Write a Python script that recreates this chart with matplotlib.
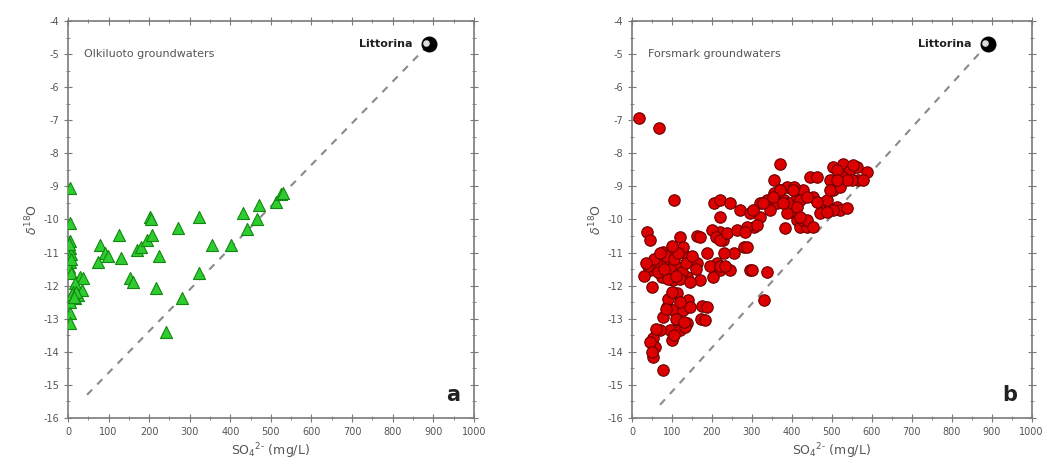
import matplotlib.pyplot as plt
from matplotlib.ticker import MultipleLocator

plt.rcParams['axes.unicode_minus'] = False

# Olkiluoto groundwaters: SO4 (mg/L) and d18O
olk_so4 = [5, 5, 5, 6, 7, 5, 3, 3, 8, 7, 30, 38, 17, 13, 25, 17, 6, 34, 5, 6,
           10, 20, 15,
           79, 91, 75, 99, 126, 130, 153, 161, 169, 181, 194, 202, 204, 206,
           225, 218, 241, 272, 280, 323, 323, 354, 401, 432, 442, 466, 471,
           512, 524, 530]
olk_d18o = [-9.05, -10.1, -10.65, -10.85, -11.05, -11.28, -10.75, -11.45, -11.2,
            -11.63, -11.73, -11.78, -11.93, -12.18, -12.28, -12.38, -12.48,
            -12.13, -12.84, -13.14, -12.25, -12.2, -12.35,
            -10.77, -11.02, -11.27, -11.1, -10.47, -11.17, -11.78, -11.88,
            -10.92, -10.82, -10.62, -9.92, -10.0, -10.47, -11.1, -12.08,
            -13.39, -10.27, -12.38, -9.92, -11.63, -10.77, -10.77, -9.79,
            -10.29, -10.0, -9.56, -9.46, -9.24, -9.2]

# Forsmark groundwaters: SO4 (mg/L) and d18O
fm_so4 = [17, 67, 106, 370, 329, 175, 173, 162,
          37, 45, 120, 170, 220, 228, 78, 103, 128, 140, 45, 62, 87, 112,
          162, 187, 203, 220, 245, 295, 50, 75, 103, 137, 170, 203, 112, 140,
          87, 103, 128, 145, 78, 112, 137, 95, 120, 132, 70, 53, 57, 100, 53,
          78, 187, 183,
          40, 55, 65, 85, 95, 105, 115, 125, 135, 150, 160, 70, 90, 120, 145,
          30, 35, 100, 110, 80, 90, 100, 120, 110, 85, 130, 105, 60, 45, 50,
          204, 221, 246, 221, 200, 209, 221, 237, 262, 279, 254, 229, 212,
          196, 221, 233, 271, 296, 304, 287, 321, 337, 354, 371, 387, 379,
          362, 396, 404, 412, 421, 437, 429, 387, 412, 429, 446, 454, 471,
          487, 471, 504, 496, 512, 529, 546, 562, 566, 550, 529, 504, 521,
          512, 521, 504, 346, 321, 354, 404, 421,
          512, 553, 587, 578, 537, 512, 462, 495, 462, 487, 537, 437, 403,
          370, 353, 378, 412, 437, 453, 420, 328, 303, 382, 312, 282, 287,
          299, 337]
fm_d18o = [-6.92, -7.22, -9.42, -8.32, -12.42, -12.6, -13.0, -10.5,
           -10.37, -10.62, -10.52, -10.52, -10.37, -10.62, -10.97, -10.9,
           -10.82, -11.12, -11.53, -11.32, -11.32, -11.43, -11.32, -11.02,
           -11.43, -11.53, -11.53, -11.53, -12.03, -11.73, -11.83, -11.73,
           -11.83, -11.73, -12.23, -12.43, -12.64, -12.74, -12.74, -12.64,
           -12.94, -13.04, -13.14, -13.34, -13.34, -13.24, -13.34, -13.59,
           -13.85, -13.64, -14.15, -14.55, -12.64, -13.04,
           -11.4, -11.2, -11.6, -11.1, -11.5, -11.2, -11.0, -11.6, -11.3,
           -11.1, -11.5, -11.0, -11.8, -11.8, -11.9, -11.7, -11.3, -10.8,
           -11.7, -11.5, -12.4, -12.2, -12.5, -13.0, -12.7, -13.1, -13.5,
           -13.3, -13.7, -14.0,
           -9.49, -9.41, -9.51, -9.91, -10.32, -10.52, -10.62, -10.42, -10.32,
           -10.82, -11.02, -11.02, -11.32, -11.42, -11.42, -11.42, -9.71,
           -9.81, -10.22, -10.22, -9.51, -9.41, -9.21, -9.11, -9.01, -9.41,
           -9.51, -9.51, -9.81, -10.02, -10.22, -10.22, -10.02, -9.81, -9.31,
           -9.11, -8.71, -9.31, -9.51, -9.41, -9.81, -9.11, -8.81, -8.51,
           -8.31, -8.51, -8.41, -8.81, -8.81, -8.71, -8.41, -9.01, -9.61,
           -9.71, -9.71, -9.71, -9.91, -8.81, -9.01, -9.41,
           -8.5, -8.35, -8.56, -8.81, -8.81, -8.81, -8.71, -9.11, -9.46,
           -9.77, -9.66, -9.31, -9.11, -9.11, -9.31, -9.51, -9.61, -10.02,
           -10.22, -9.92, -9.51, -9.71, -10.27, -10.17, -10.37, -10.82,
           -11.53, -11.58]

# Littorina end member and the mixing lines towards it
littorina = (890, -4.7)
olk_mix_start = (47, -15.3)
fm_mix_start = (70, -15.6)

AXIS_GREY = '#7a7a7a'
TEXT_GREY = '#555555'

fig = plt.figure(figsize=(10.57, 4.71), dpi=100)
ax_a = fig.add_axes([0.0643, 0.1125, 0.384, 0.843])
ax_b = fig.add_axes([0.598, 0.1125, 0.378, 0.843])


def style_axes(ax):
    ax.set_xlim(0, 1000)
    ax.set_ylim(-16, -4)
    ax.xaxis.set_major_locator(MultipleLocator(100))
    ax.xaxis.set_minor_locator(MultipleLocator(50))
    ax.yaxis.set_major_locator(MultipleLocator(1))
    ax.yaxis.set_minor_locator(MultipleLocator(0.5))
    for sp in ax.spines.values():
        sp.set_color(AXIS_GREY)
        sp.set_linewidth(1.2)
    ax.tick_params(which='both', direction='inout', top=True, right=True,
                   color=AXIS_GREY, labelsize=7, labelcolor=TEXT_GREY)
    ax.tick_params(which='major', length=6)
    ax.tick_params(which='minor', length=3)
    ax.tick_params(labelright=False, labeltop=False)
    ax.set_xlabel(r'SO$_4$$^{2\text{-}}$ (mg/L)', fontsize=9, color=TEXT_GREY,
                  labelpad=3)
    ax.set_ylabel(r'$\delta^{18}$O', fontsize=9, color=TEXT_GREY, labelpad=2)


def draw_littorina(ax, start):
    ax.plot([start[0], littorina[0]], [start[1], littorina[1]],
            linestyle=(0, (3.5, 3.5)), color='#8a8a8a', linewidth=1.5, zorder=1)
    ax.scatter([littorina[0]], [littorina[1]], s=110, color='black', zorder=4)
    ax.scatter([littorina[0] - 7], [littorina[1] + 0.04], s=14,
               color='#dddddd', zorder=5)
    ax.text(littorina[0] - 40, littorina[1], 'Littorina', ha='right',
            va='center', fontsize=8, fontweight='bold', color='#222222')


style_axes(ax_a)
draw_littorina(ax_a, olk_mix_start)
ax_a.scatter(olk_so4, olk_d18o, marker='^', s=75, color='#2ecc2e',
             edgecolor='#118811', linewidth=0.8, zorder=3)
ax_a.text(40, -5.0, 'Olkiluoto groundwaters', fontsize=8, color=TEXT_GREY,
          va='center')
ax_a.text(965, -15.3, 'a', fontsize=15, fontweight='bold', color='#222222',
          ha='right', va='center')

style_axes(ax_b)
draw_littorina(ax_b, fm_mix_start)
ax_b.scatter(fm_so4, fm_d18o, marker='o', s=68, color='#dd0000',
             edgecolor='#6a0000', linewidth=0.8, zorder=3)
ax_b.text(40, -5.0, 'Forsmark groundwaters', fontsize=8, color=TEXT_GREY,
          va='center')
ax_b.text(965, -15.3, 'b', fontsize=15, fontweight='bold', color='#222222',
          ha='right', va='center')

fig.savefig('out.png', dpi=100)
